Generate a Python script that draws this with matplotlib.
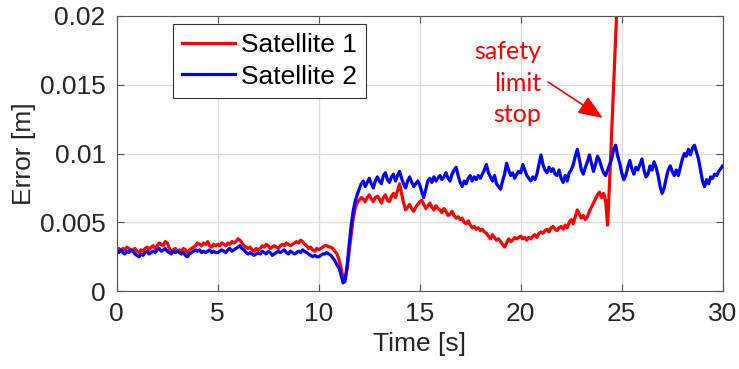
import matplotlib
matplotlib.use("Agg")
import matplotlib.pyplot as plt
import numpy as np

# error values, in units of 1e-4 m, one every 0.1 s
sat2 = [29, 28, 30, 28, 27, 29, 28, 30, 29, 27,
        26, 25, 27, 26, 28, 29, 27, 28, 29, 28,
        30, 31, 29, 30, 31, 29, 28, 27, 29, 28,
        29, 28, 27, 28, 26, 25, 27, 28, 29, 30,
        29, 30, 28, 29, 28, 29, 30, 28, 29, 28,
        28, 29, 30, 29, 28, 30, 31, 29, 30, 31,
        32, 33, 31, 30, 28, 27, 28, 27, 26, 27,
        28, 27, 29, 28, 27, 29, 28, 26, 27, 28,
        29, 28, 29, 30, 28, 27, 29, 28, 27, 28,
        29, 28, 30, 29, 28, 27, 26, 25, 26, 25,
        25, 26, 27, 27, 28, 27, 26, 24, 22, 19,
        17, 12, 6, 7, 18, 33, 47, 58, 65, 70,
        74, 78, 80, 76, 79, 82, 78, 75, 80, 83,
        80, 78, 84, 86, 81, 79, 83, 85, 80, 84,
        87, 82, 78, 75, 80, 83, 79, 76, 78, 80,
        77, 72, 68, 74, 80, 82, 79, 83, 80, 82,
        84, 81, 83, 86, 82, 80, 85, 88, 90, 84,
        79, 76, 80, 78, 82, 84, 80, 83, 81, 84,
        82, 85, 88, 92, 86, 83, 80, 84, 78, 76,
        74, 80, 85, 93, 88, 84, 86, 82, 85, 87,
        86, 92, 88, 84, 82, 80, 83, 81, 85, 92,
        99, 92, 88, 86, 90, 87, 89, 85, 84, 88,
        82, 79, 84, 80, 86, 88, 92, 98, 103, 96,
        88, 85, 90, 94, 99, 93, 87, 92, 98, 95,
        90, 86, 84, 88, 92, 96, 103, 106, 98, 93,
        86, 81, 84, 90, 95, 89, 85, 90, 88, 92,
        96, 88, 83, 85, 91, 88, 94, 90, 84, 76,
        71, 75, 82, 88, 91, 87, 84, 88, 84, 90,
        96, 100, 98, 103, 99, 104, 106, 101, 96, 88,
        80, 76, 81, 78, 83, 82, 85, 84, 87, 89,
        91]

sat1 = [30, 31, 29, 31, 30, 32, 31, 29, 30, 31,
        29, 28, 30, 29, 31, 32, 30, 32, 33, 31,
        33, 35, 34, 33, 36, 35, 31, 29, 30, 31,
        29, 30, 29, 31, 30, 28, 30, 31, 32, 33,
        35, 34, 33, 35, 34, 36, 33, 32, 34, 33,
        34, 33, 35, 34, 33, 35, 34, 36, 35, 36,
        38, 37, 35, 33, 32, 31, 32, 30, 29, 31,
        30, 31, 33, 32, 34, 33, 31, 32, 33, 32,
        31, 33, 34, 33, 35, 34, 33, 34, 35, 36,
        35, 37, 36, 34, 33, 31, 32, 30, 29, 31,
        30, 31, 32, 33, 33, 32, 32, 31, 29, 27,
        23, 17, 10, 9, 16, 28, 40, 52, 60, 64,
        66, 68, 67, 65, 68, 70, 67, 65, 68, 69,
        67, 64, 68, 70, 66, 65, 69, 71, 68, 73,
        78, 71, 64, 59, 61, 63, 60, 58, 61, 63,
        65, 66, 63, 60, 62, 64, 61, 59, 62, 60,
        59, 57, 60, 58, 55, 56, 58, 55, 53, 54,
        52, 53, 50, 49, 51, 48, 46, 47, 45, 46,
        44, 45, 43, 42, 40, 38, 41, 39, 37, 38,
        36, 34, 32, 35, 38, 36, 37, 39, 38, 39,
        40, 38, 39, 37, 39, 38, 40, 41, 39, 42,
        43, 42, 44, 45, 43, 46, 47, 45, 44, 46,
        47, 45, 48, 46, 50, 52, 49, 54, 59, 56,
        53, 55, 52, 54, 58, 61, 64, 67, 70, 72,
        68, 71, 66, 48, 80, 115, 150, 185, 220, 255]

xticks = [0, 5, 10, 15, 20, 25, 30]
yticks = [0, 0.005, 0.01, 0.015, 0.02]
ytick_labels = ["0", "0.005", "0.01", "0.015", "0.02"]

t2 = np.arange(len(sat2)) * 0.1
t1 = np.arange(len(sat1)) * 0.1
e1 = np.array(sat1) * 1e-4
e2 = np.array(sat2) * 1e-4

plt.rcParams['font.family'] = ['Liberation Sans', 'DejaVu Sans']
txtc = '#262626'

fig = plt.figure(figsize=(7.39, 3.69), dpi=100)
ax = fig.add_axes([0.158, 0.211, 0.820, 0.746])

ax.plot(t1, e1, color='red', lw=2.3, label='Satellite 1')
ax.plot(t2, e2, color='blue', lw=2.3, label='Satellite 2')

ax.set_xlim(0, 30)
ax.set_ylim(0, 0.02)
ax.set_xticks(xticks)
ax.set_yticks(yticks)
ax.set_yticklabels(ytick_labels)
ax.grid(True, color='#dcdcdc', lw=0.9)
ax.set_axisbelow(True)
ax.tick_params(direction='in', length=5, width=0.8, top=True, right=True,
               labelsize=19, colors='#555555', labelcolor=txtc, pad=8)
for s in ax.spines.values():
    s.set_color('#555555')
    s.set_linewidth(0.8)

ax.set_xlabel('Time [s]', fontsize=19, color=txtc, labelpad=4)
ax.set_ylabel('Error [m]', fontsize=19, color=txtc, labelpad=3)

leg = ax.legend(loc='upper left', bbox_to_anchor=(0.092, 0.972), borderaxespad=0,
                fontsize=19, fancybox=False, framealpha=1, edgecolor='#333333',
                handlelength=2.0, handletextpad=0.25, borderpad=0.35, labelspacing=0.3)
leg.get_frame().set_linewidth(0.8)

ax.text(21.0, 0.0151, 'safety\nlimit\nstop', color='red', fontsize=18,
        family=['Lato', 'DejaVu Sans'], ha='right', va='center',
        multialignment='right', linespacing=1.45)
ax.annotate('', xy=(24.06, 0.01258), xytext=(21.35, 0.0152),
            arrowprops=dict(arrowstyle='-|>,head_length=1.5,head_width=0.6',
                            color='red', lw=1.2, shrinkA=0, shrinkB=0))

fig.savefig('out.png', dpi=100)
